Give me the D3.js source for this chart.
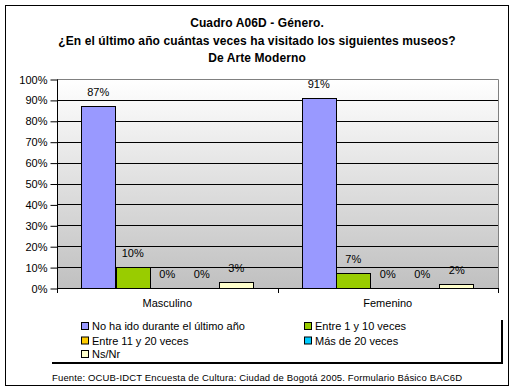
<!DOCTYPE html>
<html><head><meta charset="utf-8">
<script src="https://cdn.jsdelivr.net/npm/d3@7"></script>
<style>body{margin:0;background:#fff}svg{display:block;font-family:"Liberation Sans",Arial,sans-serif}</style>
</head><body>
<script>
const titleLines = ["Cuadro A06D - Género.", "¿En el último año cuántas veces ha visitado los siguientes museos?", "De Arte Moderno"];
const categories = ["Masculino", "Femenino"];
const seriesNames = ["No ha ido durante el último año", "Entre 1 y 10 veces", "Entre 11 y 20 veces", "Más de 20 veces", "Ns/Nr"];
const seriesColors = ["#9999FF", "#99CC00", "#FFCC00", "#00CCFF", "#FFFFCC"];
const valuesMasculino = [87, 10, 0, 0, 3];
const valuesFemenino = [91, 7, 0, 0, 2];
const yTicks = [0,10,20,30,40,50,60,70,80,90,100];
const footer = "Fuente: OCUB-IDCT Encuesta de Cultura: Ciudad de Bogotá 2005. Formulario Básico BAC6D";

const values = [valuesMasculino, valuesFemenino];
const W = 515, H = 391;
const svg = d3.select("body").append("svg").attr("width", W).attr("height", H);

const defs = svg.append("defs");
const grad = defs.append("linearGradient").attr("id","bg").attr("x1",0).attr("y1",0).attr("x2",0).attr("y2",1);
grad.append("stop").attr("offset","0%").attr("stop-color","#ffffff");
grad.append("stop").attr("offset","100%").attr("stop-color","#c0c0c0");

// outer frame
svg.append("rect").attr("x",5.5).attr("y",5.5).attr("width",503).attr("height",380)
  .attr("fill","#fff").attr("stroke","#000");

// title
svg.append("g").selectAll("text").data(titleLines).join("text")
  .attr("x", 257).attr("y", (d,i)=>27 + i*17.5)
  .attr("text-anchor","middle").attr("font-size",12).attr("font-weight","bold")
  .attr("letter-spacing",0.1).text(d=>d);

const x0 = 57, x1 = 498, yTop = 79, yBot = 288;
const x = d3.scaleBand().domain(categories).range([x0, x1]).paddingInner(0).paddingOuter(0);
const xs = d3.scaleBand().domain(seriesNames).range([0, x.bandwidth()]).paddingInner(0).paddingOuter(0.696);
const y = d3.scaleLinear().domain([0,100]).range([yBot, yTop]);

// plot background
svg.append("rect").attr("x",x0).attr("y",yTop).attr("width",x1-x0).attr("height",yBot-yTop).attr("fill","url(#bg)");

// gridlines
svg.append("g").selectAll("line").data(yTicks.filter(t=>t>0 && t<100)).join("line")
  .attr("x1",x0).attr("x2",x1).attr("y1",d=>Math.round(y(d))+0.5).attr("y2",d=>Math.round(y(d))+0.5)
  .attr("stroke","#000");
// top & right border gray
svg.append("path").attr("d",`M${x0},${Math.round(y(100))+0.5}H${x1+0.5}V${yBot}`)
  .attr("fill","none").attr("stroke","#808080");

// bars
const g = svg.append("g");
categories.forEach((c,ci)=>{
  seriesNames.forEach((s,si)=>{
    const v = values[ci][si];
    const bx = x(c) + xs(s);
    if (v > 0) {
      g.append("rect").attr("x", Math.round(bx)+0.5).attr("y", Math.round(y(v))+0.5)
        .attr("width", Math.round(xs.bandwidth())).attr("height", Math.round(yBot - y(v)))
        .attr("fill", seriesColors[si]).attr("stroke","#000");
    }
    g.append("text").attr("x", bx + xs.bandwidth()/2).attr("y", y(v) - 10)
      .attr("text-anchor","middle").attr("font-size",11).text(v + "%");
  });
});

// y axis
const yAxis = d3.axisLeft(y).tickValues(yTicks).tickFormat(d=>d+"%").tickSize(7).tickPadding(3);
const ya = svg.append("g").attr("transform",`translate(${x0+0.5},0.5)`).call(yAxis);
ya.select(".domain").attr("stroke","#000").attr("d",`M0,${yTop}V${yBot}`);
ya.selectAll(".tick line").attr("stroke","#000");
ya.selectAll(".tick text").attr("font-size",11).attr("font-family","Liberation Sans, Arial, sans-serif").attr("fill","#000");

// x axis
svg.append("line").attr("x1",x0).attr("x2",x1+1).attr("y1",yBot+0.5).attr("y2",yBot+0.5).attr("stroke","#000");
svg.append("g").selectAll("line").data([x0, x(categories[1]), x1]).join("line")
  .attr("x1",d=>Math.round(d)+0.5).attr("x2",d=>Math.round(d)+0.5).attr("y1",yBot).attr("y2",yBot+5).attr("stroke","#000");
svg.append("g").selectAll("text").data(categories).join("text")
  .attr("x",d=>x(d)+x.bandwidth()/2).attr("y",307).attr("text-anchor","middle").attr("font-size",11).text(d=>d);

// legend
const legPos = [[81,326],[304,326],[81,340.5],[304,340.5],[81,354]];
const lg = svg.append("g");
seriesNames.forEach((s,i)=>{
  const [lx,ly] = legPos[i];
  lg.append("rect").attr("x",lx+0.5).attr("y",ly-3.5).attr("width",7).attr("height",7)
    .attr("fill",seriesColors[i]).attr("stroke","#000");
  lg.append("text").attr("x",lx+11).attr("y",ly+4).attr("font-size",11).text(s);
});
lg.append("path").attr("d","M52,363H502V320").attr("fill","none").attr("stroke","#000").attr("stroke-width",2);

// footer
svg.append("text").attr("x",52).attr("y",381).attr("font-size",9.5).attr("textLength",410)
  .attr("lengthAdjust","spacing").text(footer);
</script>
</body></html>
